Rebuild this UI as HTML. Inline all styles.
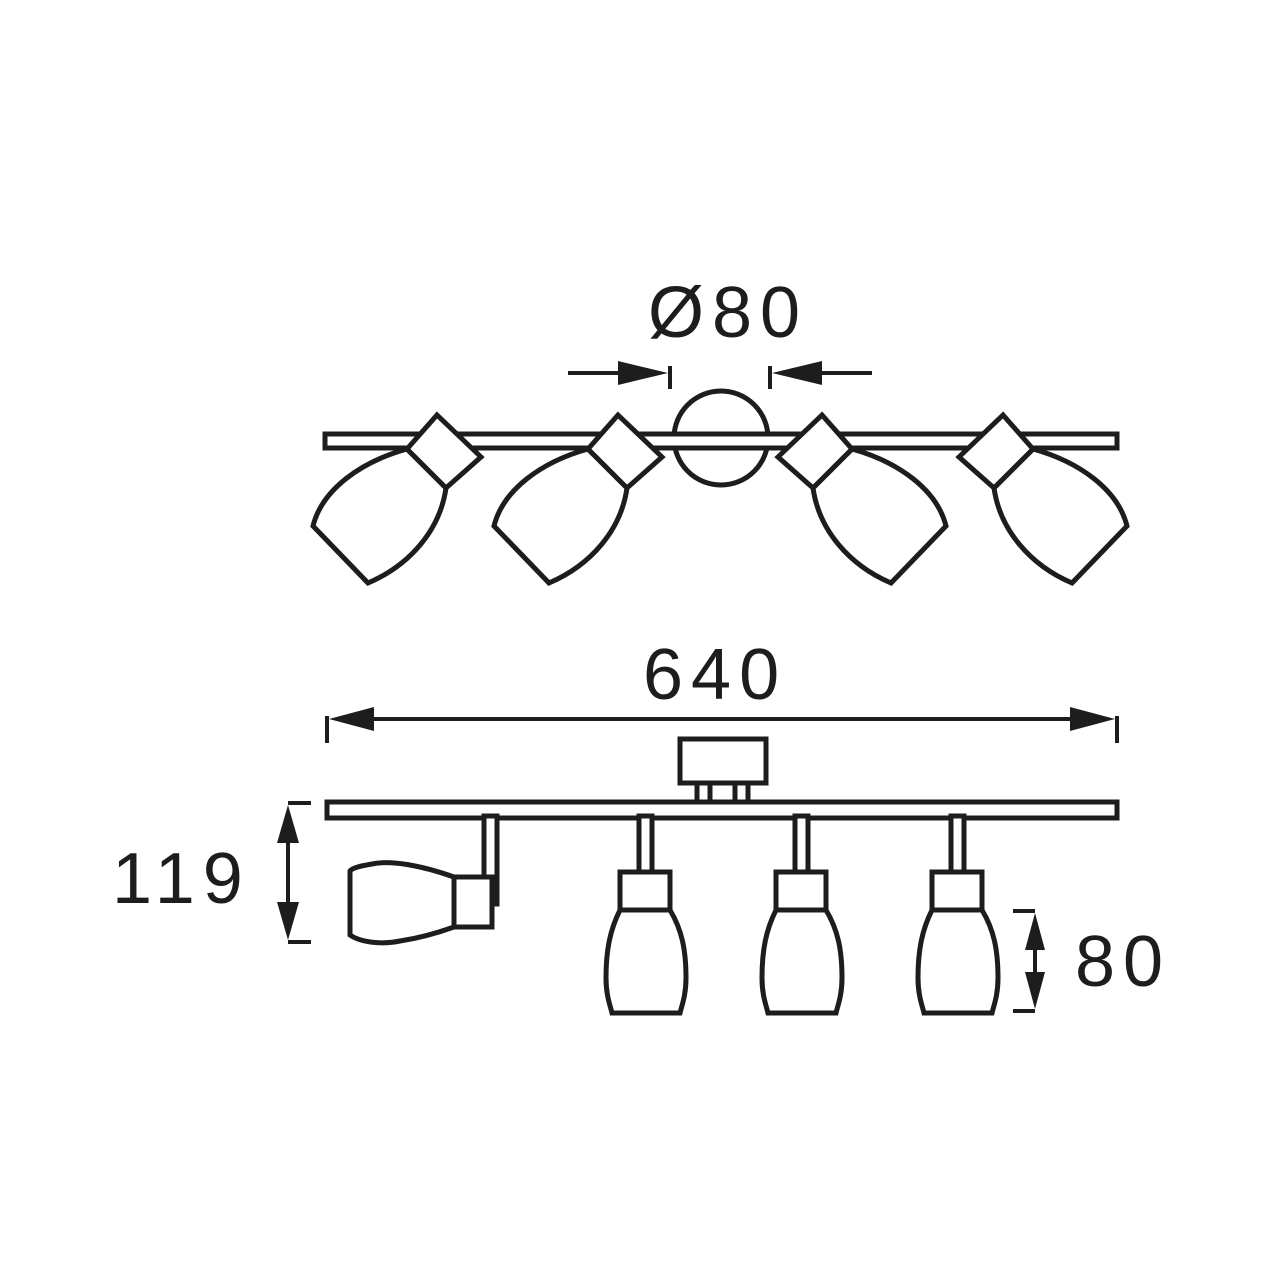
<!DOCTYPE html>
<html><head><meta charset="utf-8"><style>html,body{margin:0;padding:0;background:#fff}svg{display:block}</style></head>
<body>
<svg width="1280" height="1280" viewBox="0 0 1280 1280" xmlns="http://www.w3.org/2000/svg">
<defs>
<g id="tlamp" fill="#fff" stroke="#1d1d1b" stroke-width="5" stroke-linejoin="miter">
<path d="M407,449 C360,462 322,490 313,526 L368,583 C410,565 440,530 446,488 Z"/>
<path d="M437,415 L481,457 L446,488 L407,449 Z"/>
</g>
<g id="dlamp" fill="#fff" stroke="#1d1d1b" stroke-width="5">
<rect x="639" y="816" width="13" height="56"/>
<path d="M620,910 C610,930 606,950 606,978 C606,995 610,1005 612,1013 L680,1013 C682,1005 686,995 686,978 C686,950 682,930 670,910 Z"/>
<rect x="620" y="872" width="50" height="38"/>
</g>
</defs>
<g fill="none" stroke="#1d1d1b" stroke-width="5">
<circle cx="721" cy="438" r="47" fill="#fff"/>
<rect x="325" y="434" width="792" height="14" fill="#fff"/>
</g>
<use href="#tlamp"/>
<use href="#tlamp" transform="translate(181,0)"/>
<use href="#tlamp" transform="matrix(-1,0,0,1,1440,0)"/>
<use href="#tlamp" transform="matrix(-1,0,0,1,1259,0)"/>
<g stroke="#1d1d1b" stroke-width="4" fill="#1d1d1b">
<line x1="568" y1="373" x2="640" y2="373"/><path d="M668,373 L618,361 L618,385 Z" stroke="none"/>
<line x1="670" y1="366" x2="670" y2="389"/>
<line x1="800" y1="373" x2="872" y2="373"/><path d="M772,373 L822,361 L822,385 Z" stroke="none"/>
<line x1="770" y1="366" x2="770" y2="389"/>
</g>
<g stroke="#1d1d1b" stroke-width="4" fill="#1d1d1b">
<line x1="327" y1="716" x2="327" y2="743"/><line x1="1117" y1="716" x2="1117" y2="743"/>
<line x1="360" y1="719" x2="1085" y2="719"/>
<path d="M329,719 L374,707 L374,731 Z" stroke="none"/>
<path d="M1115,719 L1070,707 L1070,731 Z" stroke="none"/>
</g>
<g fill="#fff" stroke="#1d1d1b" stroke-width="5">
<rect x="680" y="739" width="86" height="44"/>
<rect x="697" y="783" width="13" height="19"/>
<rect x="735" y="783" width="13" height="19"/>
<rect x="327" y="802" width="790" height="16"/>
<rect x="484" y="816" width="13" height="88"/>
<path d="M454,877 C420,865 390,860 372,864 C360,866 352,868 350,871 L350,935 C360,942 380,945 400,941 C420,938 440,932 454,927 Z"/>
<rect x="454" y="877" width="38" height="50"/>
</g>
<use href="#dlamp"/>
<use href="#dlamp" transform="translate(156,0)"/>
<use href="#dlamp" transform="translate(312,0)"/>
<g stroke="#1d1d1b" stroke-width="4" fill="#1d1d1b">
<line x1="288" y1="803" x2="311" y2="803"/><line x1="288" y1="942" x2="311" y2="942"/>
<line x1="288" y1="830" x2="288" y2="915"/>
<path d="M288,805 L277,843 L299,843 Z" stroke="none"/>
<path d="M288,940 L277,902 L299,902 Z" stroke="none"/>
<line x1="1013" y1="911" x2="1035" y2="911"/><line x1="1013" y1="1011" x2="1035" y2="1011"/>
<line x1="1035" y1="930" x2="1035" y2="992"/>
<path d="M1035,913 L1025,950 L1045,950 Z" stroke="none"/>
<path d="M1035,1009 L1025,972 L1045,972 Z" stroke="none"/>
</g>
<g font-family="Liberation Sans, sans-serif" font-size="72" fill="#1d1d1b" letter-spacing="8">
<text x="648" y="337">Ø80</text>
<text x="643" y="699">640</text>
<text x="112" y="903">119</text>
<text x="1075" y="986">80</text>
</g>
</svg>
</body></html>
